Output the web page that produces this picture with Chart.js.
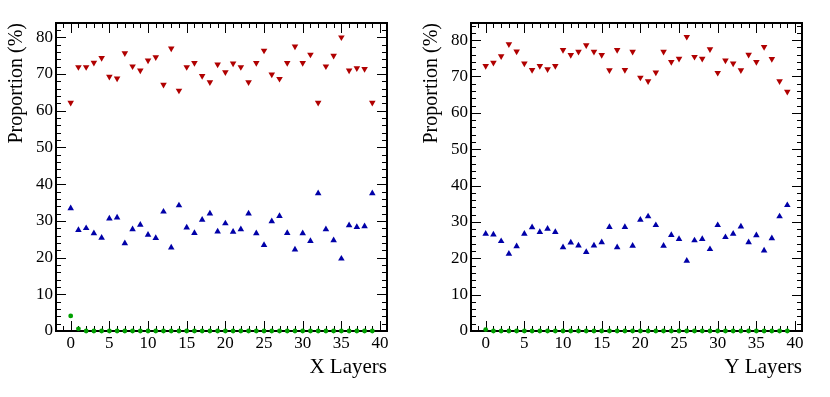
<!DOCTYPE html>
<html>
<head>
<meta charset="utf-8">
<script src="https://cdn.jsdelivr.net/npm/chart.js@4"></script>
<style>
  html, body { margin: 0; padding: 0; background: #fff; }
  #wrap { width: 830px; height: 397px; display: flex; }
  .panel { width: 415px; height: 397px; position: relative; }
</style>
</head>
<body>
<div id="wrap">
  <div class="panel"><canvas id="chart_x"></canvas></div>
  <div class="panel"><canvas id="chart_y"></canvas></div>
</div>
<script>
// layer index 0..39
var layers = [0,1,2,3,4,5,6,7,8,9,10,11,12,13,14,15,16,17,18,19,
              20,21,22,23,24,25,26,27,28,29,30,31,32,33,34,35,36,37,38,39];

// X layers
var xRed = [62.2,71.9,71.9,73.1,74.4,69.3,68.8,75.7,72.1,71.0,
            73.7,74.6,67.1,77.0,65.5,71.9,73.0,69.5,67.8,72.6,
            70.5,72.9,71.9,67.8,73.0,76.4,69.9,68.7,73.0,77.5,
            73.0,75.3,62.2,72.1,75.0,80.0,71.0,71.6,71.4,62.2];
var xBlue = [33.4,27.5,28.0,26.6,25.4,30.6,30.9,23.9,27.7,28.9,
             26.2,25.3,32.5,22.7,34.2,28.2,26.7,30.3,32.0,27.1,
             29.3,27.0,27.7,32.0,26.6,23.4,29.9,31.3,26.7,22.2,
             26.6,24.5,37.5,27.7,24.7,19.7,28.8,28.3,28.5,37.5];
var xGreen = [4.1,0.6,0,0,0,0,0,0,0,0,0,0,0,0,0,0,0,0,0,0,
              0,0,0,0,0,0,0,0,0,0,0,0,0,0,0,0,0,0,0,0];

// Y layers
var yRed = [72.9,73.8,75.6,78.9,76.9,73.6,71.8,72.9,72.0,72.9,
            77.3,75.9,76.8,78.6,76.8,75.9,71.7,77.3,71.8,76.8,
            69.7,68.7,71.1,76.8,74.0,74.9,80.9,75.4,74.9,77.5,
            71.0,74.4,73.6,71.7,76.0,74.0,78.1,74.8,68.7,65.8];
var yBlue = [26.7,26.5,24.7,21.2,23.3,26.7,28.5,27.2,28.1,27.2,
             23.0,24.3,23.5,21.7,23.5,24.4,28.6,23.0,28.6,23.4,
             30.6,31.5,29.1,23.4,26.4,25.3,19.3,24.9,25.3,22.5,
             29.1,25.8,26.7,28.7,24.4,26.3,22.1,25.5,31.5,34.6];
var yGreen = [0.4,0,0,0,0,0,0,0,0,0,0,0,0,0,0,0,0,0,0,0,
              0,0,0,0,0,0,0,0,0,0,0,0,0,0,0,0,0,0,0,0];

var xTicks = [0,5,10,15,20,25,30,35,40];
var yTicks = [0,10,20,30,40,50,60,70,80];

function toPoints(vals) {
    var pts = [];
    for (var i = 0; i < layers.length; i++) {
        pts.push({x: layers[i], y: vals[i]});
    }
    return pts;
}

// ROOT style frame with inward ticks on all four sides
var framePlugin = {
    id: 'frame',
    beforeDatasetsDraw: function(chart) {
        var ctx = chart.ctx, a = chart.chartArea;
        var xs = chart.scales.x, ys = chart.scales.y;
        ctx.save();
        ctx.strokeStyle = '#000';
        ctx.lineWidth = 1;
        ctx.beginPath();
        var v, px, len;
        for (v = Math.ceil(xs.min); v <= xs.max; v++) {
            px = Math.round(xs.getPixelForValue(v)) + 0.5;
            len = (v % 5 === 0) ? 10 : 5;
            ctx.moveTo(px, a.bottom); ctx.lineTo(px, a.bottom - len);
            ctx.moveTo(px, a.top); ctx.lineTo(px, a.top + len);
        }
        for (v = 0; v <= ys.max; v += 2) {
            px = Math.round(ys.getPixelForValue(v)) + 0.5;
            len = (v % 10 === 0) ? 10 : 5;
            ctx.moveTo(a.left, px); ctx.lineTo(a.left + len, px);
            ctx.moveTo(a.right, px); ctx.lineTo(a.right - len, px);
        }
        ctx.stroke();
        ctx.lineWidth = 2;
        ctx.strokeRect(a.left, a.top, a.right - a.left, a.bottom - a.top);
        ctx.restore();
    }
};

function createPanel(id, red, blue, green, xTitle, yMax) {
    var ctx = document.getElementById(id).getContext('2d');
    var font = {family: '"Liberation Serif", "DejaVu Serif", serif', size: 17};
    var titleFont = {family: '"Liberation Serif", "DejaVu Serif", serif', size: 20};

    return new Chart(ctx, {
        type: 'scatter',
        data: {
            datasets: [
                {data: toPoints(red), pointStyle: 'triangle', rotation: 180,
                 pointRadius: 3.8, backgroundColor: '#b00000', borderColor: '#b00000',
                 borderWidth: 0, clip: false},
                {data: toPoints(blue), pointStyle: 'triangle',
                 pointRadius: 3.8, backgroundColor: '#0000a8', borderColor: '#0000a8',
                 borderWidth: 0, clip: false},
                {data: toPoints(green), pointStyle: 'circle',
                 pointRadius: 2.4, backgroundColor: '#00a000', borderColor: '#00a000',
                 borderWidth: 0, clip: false}
            ]
        },
        options: {
            responsive: false,
            animation: false,
            events: [],
            layout: {padding: {left: 0, top: 23, right: 28, bottom: 0}},
            plugins: {legend: {display: false}, tooltip: {enabled: false}},
            scales: {
                x: {
                    type: 'linear', min: -1.9, max: 40.9,
                    grid: {display: false, drawTicks: false},
                    border: {display: false},
                    afterBuildTicks: function(s) {
                        s.ticks = xTicks.map(function(t){ return {value: t}; });
                    },
                    afterFit: function(s) { s.height = 66; },
                    ticks: {font: font, color: '#000', padding: 2, maxRotation: 0},
                    title: {display: true, text: xTitle, align: 'end',
                            font: {family: titleFont.family, size: 21},
                            color: '#000', padding: {top: 0, bottom: 17}}
                },
                y: {
                    type: 'linear', min: 0, max: yMax,
                    grid: {display: false, drawTicks: false},
                    border: {display: false},
                    afterBuildTicks: function(s) {
                        s.ticks = yTicks.map(function(t){ return {value: t}; });
                    },
                    afterFit: function(s) { s.width = 56; },
                    ticks: {font: font, color: '#000', padding: 3},
                    title: {display: true, text: 'Proportion (%)', align: 'end', font: titleFont,
                            color: '#000', padding: {top: 5, bottom: 0}}
                }
            }
        },
        plugins: [framePlugin]
    });
}

document.getElementById('chart_x').width = 415;
document.getElementById('chart_x').height = 397;
document.getElementById('chart_y').width = 415;
document.getElementById('chart_y').height = 397;

createPanel('chart_x', xRed, xBlue, xGreen, 'X Layers', 83.9);
createPanel('chart_y', yRed, yBlue, yGreen, 'Y Layers', 84.7);
</script>
</body>
</html>
